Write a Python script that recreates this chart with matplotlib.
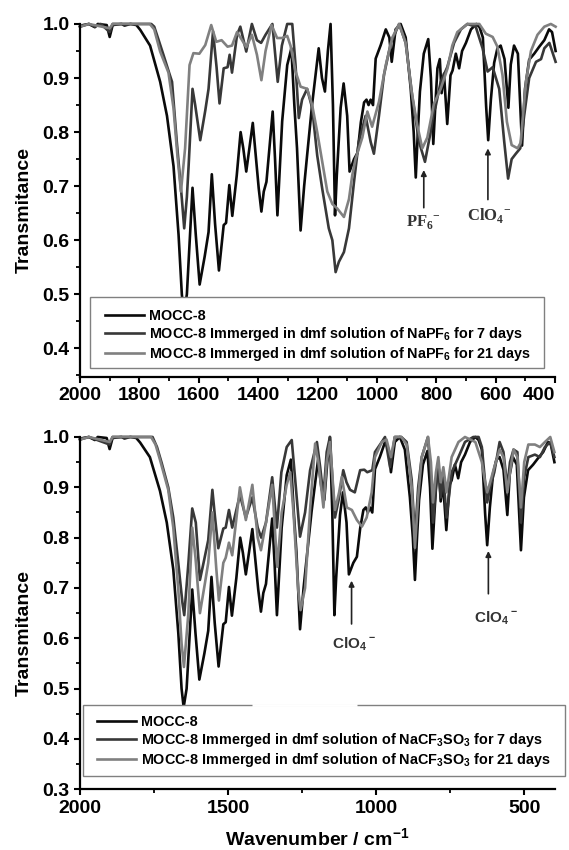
import numpy as np
import matplotlib
matplotlib.use("Agg")
import matplotlib.pyplot as plt
from matplotlib.ticker import MultipleLocator
from matplotlib.patches import Rectangle

plt.rcParams['font.family'] = ['Liberation Sans', 'DejaVu Sans']
plt.rcParams['font.weight'] = 'bold'
plt.rcParams['mathtext.fontset'] = 'custom'
plt.rcParams['mathtext.rm'] = 'Liberation Sans:bold'
plt.rcParams['mathtext.bf'] = 'Liberation Sans:bold'
plt.rcParams['mathtext.sf'] = 'Liberation Serif:bold'

# ---- pristine MOCC-8 (same spectrum in both panels) ----
mocc8_wn = [2000, 1990, 1970, 1950, 1940, 1910, 1900, 1890, 1860, 1850, 1830, 1810,
            1797, 1764, 1730, 1707, 1685, 1668, 1657, 1650, 1640, 1621, 1610, 1597,
            1580, 1567, 1556, 1545, 1532, 1516, 1508, 1497, 1487, 1472, 1459, 1450,
            1440, 1418, 1398, 1389, 1381, 1372, 1351, 1343, 1335, 1319, 1302, 1288,
            1278, 1269, 1257, 1245, 1235, 1218, 1196, 1185, 1175, 1165, 1156, 1148,
            1141, 1135, 1122, 1112, 1100, 1092, 1077, 1065, 1054, 1043, 1035, 1028,
            1021, 1013, 1004, 987, 970, 958, 950, 937, 920, 903, 886, 876, 869, 862,
            855, 842, 827, 818, 810, 802, 796, 788, 782, 774, 763, 752, 745, 734,
            723, 713, 700, 683, 665, 654, 643, 632, 625, 616, 605, 594, 583, 570,
            557, 549, 538, 525, 511, 501, 487, 470, 453, 436, 420, 410, 398]
mocc8_t = [0.995, 0.998, 1.0, 0.994, 1.0, 0.998, 0.976, 0.998, 1.0, 0.997, 1.0, 0.998,
           0.989, 0.96, 0.893, 0.83, 0.737, 0.61, 0.50, 0.463, 0.50, 0.697, 0.61, 0.518,
           0.57, 0.615, 0.722, 0.63, 0.544, 0.628, 0.632, 0.702, 0.645, 0.72, 0.80, 0.77,
           0.727, 0.817, 0.696, 0.653, 0.69, 0.708, 0.838, 0.75, 0.646, 0.82, 0.924, 0.955,
           0.85, 0.77, 0.618, 0.70, 0.757, 0.852, 0.955, 0.90, 0.875, 0.95, 1.0, 0.85,
           0.646, 0.72, 0.845, 0.89, 0.83, 0.727, 0.75, 0.762, 0.818, 0.855, 0.86, 0.85,
           0.86, 0.85, 0.936, 0.961, 0.99, 0.975, 0.93, 0.99, 1.0, 0.975, 0.88, 0.80, 0.716, 0.80,
           0.875, 0.945, 0.972, 0.90, 0.778, 0.86, 0.918, 0.935, 0.872, 0.908, 0.815, 0.905, 0.914, 0.945,
           0.918, 0.95, 0.965, 0.99, 1.0, 0.994, 0.975, 0.848, 0.785, 0.86, 0.928, 0.955, 0.96, 0.935,
           0.845, 0.925, 0.96, 0.945, 0.775, 0.88, 0.934, 0.945, 0.958, 0.97, 0.99, 0.985, 0.95]

# ---- NaPF6, 7 days ----
pf6_7d_wn = [2000, 1970, 1950, 1930, 1900, 1890, 1760, 1750, 1735, 1719, 1700, 1690,
             1674, 1657, 1649, 1640, 1634, 1621, 1612, 1595, 1578, 1567, 1552, 1540,
             1530, 1516, 1503, 1496, 1488, 1471, 1460, 1440, 1421, 1404, 1390, 1375,
             1352, 1334, 1320, 1302, 1285, 1274, 1263, 1252, 1235, 1218, 1201, 1184,
             1162, 1150, 1139, 1128, 1111, 1094, 1077, 1061, 1038, 1021, 1010, 993,
             976, 953, 925, 903, 880, 858, 838, 819, 808, 803, 785, 763, 740, 717,
             695, 667, 644, 627, 610, 588, 571, 558, 546, 532, 517, 504, 487, 464,
             447, 436, 419, 398]
pf6_7d_t = [0.995, 1.0, 0.995, 1.0, 0.985, 1.0, 1.0, 0.995, 0.97, 0.943, 0.91, 0.893,
            0.782, 0.677, 0.622, 0.68, 0.739, 0.88, 0.85, 0.785, 0.84, 0.88, 0.986, 0.92,
            0.853, 0.918, 0.92, 0.943, 0.91, 0.98, 0.995, 0.949, 1.0, 0.97, 0.965, 0.98,
            1.0, 0.893, 0.96, 1.0, 1.0, 0.924, 0.826, 0.86, 0.88, 0.845, 0.757, 0.695,
            0.622, 0.60, 0.541, 0.56, 0.578, 0.622, 0.708, 0.782, 0.83, 0.782, 0.76, 0.83,
            0.906, 0.965, 1.0, 0.965, 0.863, 0.782, 0.745, 0.80, 0.84, 0.845, 0.893, 0.92, 0.965, 0.99,
            1.0, 0.995, 0.955, 0.912, 0.92, 0.88, 0.782, 0.714, 0.75, 0.76, 0.77, 0.83, 0.90, 0.93,
            0.935, 0.955, 0.965, 0.93]

# ---- NaPF6, 21 days ----
pf6_21d_wn = [2000, 1970, 1900, 1890, 1765, 1750, 1730, 1702, 1685, 1672, 1660, 1646,
              1631, 1618, 1598, 1578, 1558, 1541, 1523, 1503, 1488, 1471, 1454, 1440,
              1421, 1404, 1389, 1375, 1355, 1336, 1319, 1302, 1291, 1274, 1257, 1235,
              1218, 1201, 1184, 1167, 1150, 1134, 1111, 1094, 1083, 1072, 1049, 1032,
              1016, 993, 970, 948, 925, 903, 883, 864, 847, 830, 808, 785, 762, 746,
              729, 695, 655, 633, 610, 594, 577, 562, 546, 526, 516, 498, 481, 459,
              436, 414, 398]
pf6_21d_t = [0.995, 1.0, 0.992, 1.0, 1.0, 0.99, 0.949, 0.91, 0.844, 0.757, 0.69, 0.77,
             0.924, 0.946, 0.945, 0.961, 0.998, 0.967, 0.97, 0.958, 0.96, 0.985, 0.97, 0.957,
             0.98, 0.943, 0.896, 0.95, 0.998, 0.974, 0.974, 0.978, 0.96, 0.912, 0.884, 0.88,
             0.85, 0.80, 0.745, 0.69, 0.667, 0.659, 0.643, 0.676, 0.72, 0.75, 0.79, 0.838,
             0.81, 0.856, 0.924, 0.975, 1.0, 0.965, 0.875, 0.813, 0.77, 0.79, 0.852, 0.88, 0.918, 0.96,
             0.985, 1.0, 1.0, 0.982, 0.976, 0.958, 0.906, 0.819, 0.776, 0.77, 0.78, 0.893, 0.95, 0.98,
             0.995, 1.0, 0.995]

# ---- NaCF3SO3, 7 days ----
tf_7d_wn = [2000, 1970, 1900, 1890, 1755, 1740, 1724, 1702, 1685, 1668, 1654, 1648,
            1634, 1621, 1609, 1595, 1581, 1567, 1553, 1544, 1533, 1516, 1508, 1497,
            1486, 1460, 1440, 1418, 1400, 1388, 1372, 1351, 1335, 1320, 1302, 1285,
            1274, 1257, 1240, 1223, 1200, 1189, 1178, 1167, 1156, 1144, 1139, 1125,
            1111, 1100, 1088, 1072, 1054, 1040, 1030, 1013, 1004, 981, 970, 953, 937,
            915, 897, 880, 869, 858, 846, 825, 815, 808, 798, 790, 782, 773, 762,
            745, 722, 700, 672, 654, 643, 632, 625, 615, 601, 583, 570, 557, 548,
            536, 523, 511, 500, 486, 464, 447, 430, 412, 398]
tf_7d_t = [0.995, 1.0, 0.985, 1.0, 1.0, 0.98, 0.948, 0.90, 0.84, 0.749, 0.67, 0.646,
           0.749, 0.858, 0.83, 0.716, 0.755, 0.795, 0.895, 0.84, 0.779, 0.818, 0.82, 0.855,
           0.82, 0.885, 0.84, 0.88, 0.82, 0.80, 0.83, 0.92, 0.82, 0.93, 0.98, 0.994,
           0.92, 0.802, 0.85, 0.934, 0.99, 0.94, 0.881, 0.97, 1.0, 0.88, 0.84, 0.88,
           0.934, 0.91, 0.895, 0.89, 0.934, 0.935, 0.93, 0.934, 0.97, 0.99, 1.0, 0.94, 1.0,
           1.0, 0.99, 0.915, 0.80, 0.90, 0.96, 1.0, 0.92, 0.83, 0.90, 0.94, 0.88, 0.92, 0.84,
           0.93, 0.96, 0.99, 1.0, 1.0, 0.98, 0.91, 0.87, 0.90, 0.93, 0.99, 0.97, 0.90, 0.95,
           0.975, 0.97, 0.83, 0.92, 0.96, 0.965, 0.96, 0.98, 0.99, 0.96]

# ---- NaCF3SO3, 21 days ----
tf_21d_wn = [2000, 1970, 1900, 1890, 1760, 1745, 1730, 1702, 1685, 1668, 1657, 1649,
             1634, 1621, 1610, 1595, 1578, 1567, 1553, 1540, 1531, 1516, 1508, 1497,
             1486, 1460, 1440, 1418, 1400, 1389, 1372, 1351, 1334, 1319, 1302, 1290,
             1279, 1263, 1255, 1240, 1223, 1206, 1195, 1178, 1167, 1156, 1145, 1139,
             1125, 1116, 1099, 1082, 1065, 1048, 1032, 1015, 1004, 981, 965, 950, 937,
             915, 897, 880, 869, 858, 846, 825, 815, 808, 798, 790, 782, 773, 762,
             745, 722, 700, 665, 643, 632, 625, 615, 601, 583, 570, 557, 548, 536,
             523, 511, 500, 486, 464, 447, 430, 412, 398]
tf_21d_t = [0.995, 1.0, 0.99, 1.0, 1.0, 0.985, 0.955, 0.895, 0.82, 0.696, 0.59, 0.543,
            0.65, 0.82, 0.76, 0.65, 0.71, 0.75, 0.85, 0.74, 0.675, 0.75, 0.76, 0.79,
            0.765, 0.90, 0.835, 0.905, 0.80, 0.775, 0.83, 0.905, 0.742, 0.85, 0.905, 0.93,
            0.849, 0.695, 0.656, 0.70, 0.857, 0.987, 0.95, 0.86, 0.95, 0.99, 0.90, 0.855,
            0.89, 0.921, 0.86, 0.855, 0.835, 0.822, 0.84, 0.89, 0.96, 0.99, 0.995, 0.96, 1.0,
            1.0, 0.985, 0.90, 0.78, 0.88, 0.96, 1.0, 0.95, 0.87, 0.93, 0.96, 0.91, 0.94, 0.89,
            0.96, 0.99, 1.0, 0.99, 0.95, 0.91, 0.89, 0.91, 0.94, 0.975, 0.96, 0.89, 0.93, 0.975,
            0.96, 0.86, 0.95, 0.985, 0.985, 0.98, 0.99, 1.0, 0.97]

labels_top = ['MOCC-8',
              r'MOCC-8 Immerged in dmf solution of NaPF$_6$ for 7 days',
              r'MOCC-8 Immerged in dmf solution of NaPF$_6$ for 21 days']
labels_bot = ['MOCC-8',
              r'MOCC-8 Immerged in dmf solution of NaCF$_3$SO$_3$ for 7 days',
              r'MOCC-8 Immerged in dmf solution of NaCF$_3$SO$_3$ for 21 days']
colors = ['#0a0a0a', '#383838', '#808080']

fig = plt.figure(figsize=(5.69, 8.5), dpi=100)
ax1 = fig.add_axes([0.1406, 0.5568, 0.8348, 0.415])
ax2 = fig.add_axes([0.1406, 0.0714, 0.8348, 0.4145])


def style_axes(ax):
    for side in ['top', 'right']:
        ax.spines[side].set_visible(False)
    for side in ['left', 'bottom']:
        ax.spines[side].set_linewidth(1.6)
    ax.tick_params(which='major', direction='out', length=4.5, width=1.5,
                   labelsize=14, pad=3)
    ax.tick_params(which='minor', direction='out', length=2.8, width=1.3)
    ax.yaxis.set_major_locator(MultipleLocator(0.1))
    ax.yaxis.set_minor_locator(MultipleLocator(0.05))
    ax.yaxis.set_major_formatter(plt.FormatStrFormatter('%.1f'))
    ax.set_ylabel('Transmitance', fontsize=14, fontweight='bold')


def draw(ax, series, labels):
    handles = []
    for (wn, t), c, lab in zip(series, colors, labels):
        h, = ax.plot(wn, t, color=c, lw=1.9, label=lab, clip_on=False,
                     solid_joinstyle='round')
        handles.append(h)
    return handles


def boxed_legend(ax, handles, frame, anchor):
    # frame drawn separately so the padding inside it matches the original
    ax.add_patch(Rectangle(frame[:2], frame[2], frame[3], transform=ax.transAxes,
                           facecolor='white', edgecolor='#808080', lw=1.0,
                           zorder=4, clip_on=False))
    leg = ax.legend(handles=handles, loc='center left', bbox_to_anchor=anchor,
                    fontsize=10.4, frameon=False, handlelength=2.7,
                    handletextpad=0.35, labelspacing=0.15, borderpad=0,
                    borderaxespad=0)
    leg.set_zorder(5)
    return leg


# ---------------- top panel ----------------
h1 = draw(ax1, [(mocc8_wn, mocc8_t), (pf6_7d_wn, pf6_7d_t), (pf6_21d_wn, pf6_21d_t)],
          labels_top)
ax1.set_xlim(2000, 400)
ax1.set_ylim(0.3475, 1.0)
ax1.xaxis.set_major_locator(MultipleLocator(200))
ax1.xaxis.set_minor_locator(MultipleLocator(100))
style_axes(ax1)
ax1.yaxis.set_label_coords(-0.099, 0.473)
boxed_legend(ax1, h1, (0.021, 0.025, 0.956, 0.201), (0.0526, 0.115))

ax1.annotate('', xy=(842, 0.735), xytext=(842, 0.655),
             arrowprops=dict(arrowstyle='-|>', color='#222222', lw=1.2, mutation_scale=8))
ax1.text(842, 0.632, r'PF$_\mathsf{6}$$^\mathsf{-}$', ha='center', va='center',
         fontsize=12, family='Liberation Serif', fontweight='bold', color='#333333')
ax1.annotate('', xy=(626, 0.775), xytext=(626, 0.67),
             arrowprops=dict(arrowstyle='-|>', color='#222222', lw=1.2, mutation_scale=8))
ax1.text(623, 0.646, r'ClO$_\mathsf{4}$$^\mathsf{-}$', ha='center', va='center',
         fontsize=12, family='Liberation Serif', fontweight='bold', color='#333333')

# ---------------- bottom panel ----------------
h2 = draw(ax2, [(mocc8_wn, mocc8_t), (tf_7d_wn, tf_7d_t), (tf_21d_wn, tf_21d_t)],
          labels_bot)
ax2.set_xlim(2000, 396)
ax2.set_ylim(0.3, 1.0)
ax2.xaxis.set_major_locator(MultipleLocator(500))
ax2.xaxis.set_minor_locator(MultipleLocator(250))
style_axes(ax2)
ax2.yaxis.set_label_coords(-0.099, 0.443)
ax2.set_xlabel(r'Wavenumber / cm$^{-1}$', fontsize=14, fontweight='bold', labelpad=8)
boxed_legend(ax2, h2, (0.0063, 0.0378, 1.0147, 0.2015), (0.0358, 0.134))
# the original has a short break in the top edge of this legend box
ax2.plot([0.362, 0.583], [0.2393, 0.2393], transform=ax2.transAxes, color='white',
         lw=2.0, zorder=4.5, clip_on=False, solid_capstyle='butt')

ax2.annotate('', xy=(1083, 0.72), xytext=(1083, 0.623),
             arrowprops=dict(arrowstyle='-|>', color='#222222', lw=1.2, mutation_scale=8))
ax2.text(1075, 0.588, r'ClO$_4$$^-$', ha='center', va='center',
         fontsize=11, fontweight='bold', color='#333333')
ax2.annotate('', xy=(621, 0.779), xytext=(621, 0.683),
             arrowprops=dict(arrowstyle='-|>', color='#222222', lw=1.2, mutation_scale=8))
ax2.text(597, 0.64, r'ClO$_4$$^-$', ha='center', va='center',
         fontsize=11, fontweight='bold', color='#333333')

# keep the last top-panel tick label inside the picture
fig.canvas.draw()
for lab in ax1.get_xticklabels():
    if lab.get_text() == '400':
        lab.set_ha('right')

fig.savefig('out.png', dpi=100)
